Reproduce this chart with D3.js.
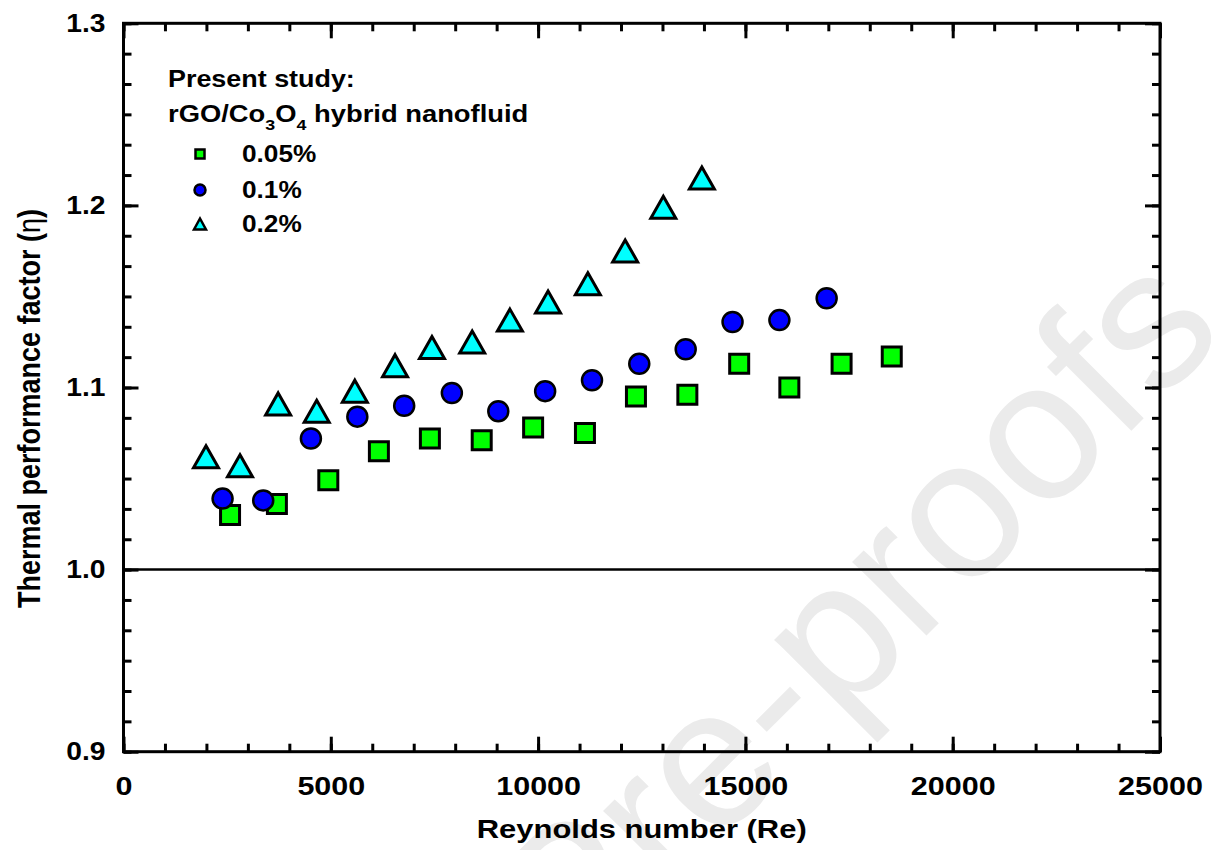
<!DOCTYPE html>
<html>
<head>
<meta charset="utf-8">
<script src="https://cdn.jsdelivr.net/npm/d3@7"></script>
<style>
  html, body { margin: 0; padding: 0; background: #fff; }
  svg { display: block; }
  text { font-family: Arial, "Liberation Sans", sans-serif; font-weight: bold; fill: #000; }
</style>
</head>
<body>
<svg id="chart" width="1214" height="850"></svg>
<script>
// Thermal performance factor vs Reynolds number, rGO/Co3O4 hybrid nanofluid
const re005  = [2570, 3700, 4940, 6160, 7390, 8640, 9880, 11130, 12360, 13600, 14850, 16060, 17320, 18530];
const eta005 = [1.030, 1.036, 1.049, 1.065, 1.072, 1.071, 1.078, 1.075, 1.095, 1.096, 1.113, 1.100, 1.113, 1.117];

const re01   = [2390, 3370, 4520, 5640, 6770, 7920, 9040, 10170, 11300, 12440, 13560, 14690, 15820, 16960];
const eta01  = [1.039, 1.038, 1.072, 1.084, 1.090, 1.097, 1.087, 1.098, 1.104, 1.113, 1.121, 1.136, 1.137, 1.149];

const re02   = [1990, 2810, 3730, 4660, 5580, 6550, 7440, 8410, 9320, 10240, 11200, 12100, 13020, 13950];
const eta02  = [1.062, 1.057, 1.091, 1.087, 1.098, 1.112, 1.122, 1.125, 1.137, 1.147, 1.157, 1.175, 1.199, 1.215];

const seriesNames = ["0.05%", "0.1%", "0.2%"];
const xTicks = [0, 5000, 10000, 15000, 20000, 25000];
const yTicks = [0.9, 1.0, 1.1, 1.2, 1.3];
const referenceLine = 1.0;

const svg = d3.select("#chart");
const pLeft = 123.5, pRight = 1160, pTop = 23.3, pBottom = 751.7;

const x = d3.scaleLinear().domain([0, 25000]).range([pLeft, pRight]);
const y = d3.scaleLinear().domain([0.9, 1.3]).range([pBottom, pTop]);

// faint diagonal watermark behind the plot
svg.append("text")
  .attr("transform", "translate(1228,334) rotate(-45)")
  .attr("text-anchor", "end")
  .style("font-weight", "normal")
  .style("font-size", "198px")
  .style("fill", "#ebebeb")
  .text("Journal Pre-proofs");

// minor tick values: 5 subdivisions on x, 6 on y
const xMinor = d3.range(0, 25001, 1000);
const yMinor = d3.range(0, 25).map(i => 0.9 + i * (0.1 / 6));

const axisStyle = g => {
  g.selectAll(".domain").remove();
  g.selectAll("line").attr("stroke", "#000").attr("stroke-width", 3);
};

// minor ticks on all four sides (inward)
svg.append("g").attr("transform", `translate(0,${pBottom})`)
  .call(d3.axisBottom(x).tickValues(xMinor).tickSize(-8).tickFormat(""))
  .call(axisStyle);
svg.append("g").attr("transform", `translate(0,${pTop})`)
  .call(d3.axisTop(x).tickValues(xMinor).tickSize(-8).tickFormat(""))
  .call(axisStyle);
svg.append("g").attr("transform", `translate(${pLeft},0)`)
  .call(d3.axisLeft(y).tickValues(yMinor).tickSize(-8).tickFormat(""))
  .call(axisStyle);
svg.append("g").attr("transform", `translate(${pRight},0)`)
  .call(d3.axisRight(y).tickValues(yMinor).tickSize(-8).tickFormat(""))
  .call(axisStyle);

// major ticks with labels
const xAxis = svg.append("g").attr("transform", `translate(0,${pBottom})`)
  .call(d3.axisBottom(x).tickValues(xTicks).tickSize(-15).tickPadding(26).tickFormat(d3.format("d")))
  .call(axisStyle);
xAxis.selectAll("text").style("font-size", "25px")
  .attr("transform", "scale(1.22,1)");

svg.append("g").attr("transform", `translate(0,${pTop})`)
  .call(d3.axisTop(x).tickValues(xTicks).tickSize(-15).tickFormat(""))
  .call(axisStyle);

const yAxis = svg.append("g").attr("transform", `translate(${pLeft},0)`)
  .call(d3.axisLeft(y).tickValues(yTicks).tickSize(-15).tickPadding(16).tickFormat(d3.format(".1f")))
  .call(axisStyle);
yAxis.selectAll("text").style("font-size", "25px")
  .attr("transform", "scale(1.13,1)");

svg.append("g").attr("transform", `translate(${pRight},0)`)
  .call(d3.axisRight(y).tickValues(yTicks).tickSize(-15).tickFormat(""))
  .call(axisStyle);

// frame
svg.append("rect")
  .attr("x", pLeft).attr("y", pTop)
  .attr("width", pRight - pLeft).attr("height", pBottom - pTop)
  .attr("fill", "none").attr("stroke", "#000").attr("stroke-width", 3);

// reference line at eta = 1
svg.append("line")
  .attr("x1", pLeft).attr("x2", pRight)
  .attr("y1", y(referenceLine)).attr("y2", y(referenceLine))
  .attr("stroke", "#000").attr("stroke-width", 2.5);

// marker shapes
const squarePath = s => `M${-s/2},${-s/2}H${s/2}V${s/2}H${-s/2}Z`;
const trianglePath = (w, h) => `M0,${-h/2}L${w/2},${h/2}L${-w/2},${h/2}Z`;

const plot = svg.append("g");

const sq = d3.zip(re005, eta005);
const ci = d3.zip(re01, eta01);
const tr = d3.zip(re02, eta02);

plot.selectAll(".sq").data(sq).join("path")
  .attr("d", squarePath(19))
  .attr("transform", d => `translate(${x(d[0])},${y(d[1])})`)
  .attr("fill", "#00ff00").attr("stroke", "#000").attr("stroke-width", 3);

plot.selectAll(".ci").data(ci).join("circle")
  .attr("cx", d => x(d[0])).attr("cy", d => y(d[1])).attr("r", 10)
  .attr("fill", "#0000ff").attr("stroke", "#000").attr("stroke-width", 2.5);

plot.selectAll(".tr").data(tr).join("path")
  .attr("d", trianglePath(25, 22))
  .attr("transform", d => `translate(${x(d[0])},${y(d[1])})`)
  .attr("fill", "#00ffff").attr("stroke", "#000").attr("stroke-width", 3)
  .attr("stroke-linejoin", "miter");

// legend
const legend = svg.append("g").attr("transform", "translate(168,0)");
legend.append("text").attr("transform", "translate(0,87) scale(1.17,1)")
  .style("font-size", "23px").text("Present study:");
const l2 = legend.append("text").attr("transform", "translate(0,122) scale(1.19,1)")
  .style("font-size", "23px");
l2.append("tspan").text("rGO/Co");
l2.append("tspan").attr("dy", 8).style("font-size", "15px").text("3");
l2.append("tspan").attr("dy", -8).text("O");
l2.append("tspan").attr("dy", 8).style("font-size", "15px").text("4");
l2.append("tspan").attr("dy", -8).text(" hybrid nanofluid");

const legendRows = [
  { name: seriesNames[0], cy: 154, fill: "#00ff00", kind: "square" },
  { name: seriesNames[1], cy: 190, fill: "#0000ff", kind: "circle" },
  { name: seriesNames[2], cy: 224, fill: "#00ffff", kind: "triangle" }
];
legendRows.forEach(r => {
  const g = legend.append("g").attr("transform", `translate(32,${r.cy})`);
  if (r.kind === "square") {
    g.append("path").attr("d", squarePath(9)).attr("fill", r.fill).attr("stroke", "#000").attr("stroke-width", 2.5);
  } else if (r.kind === "circle") {
    g.append("circle").attr("r", 5.5).attr("fill", r.fill).attr("stroke", "#000").attr("stroke-width", 2.5);
  } else {
    g.append("path").attr("d", trianglePath(12, 11)).attr("fill", r.fill).attr("stroke", "#000").attr("stroke-width", 2.5);
  }
  legend.append("text").attr("transform", `translate(74,${r.cy + 8}) scale(1.14,1)`)
    .style("font-size", "23px").text(r.name);
});

// axis titles
svg.append("text")
  .attr("transform", `translate(${(pLeft + pRight) / 2},838) scale(1.19,1)`)
  .attr("text-anchor", "middle")
  .style("font-size", "26px")
  .text("Reynolds number (Re)");

const yt = svg.append("text")
  .attr("transform", `translate(40,${(pTop + pBottom) / 2 + 21}) rotate(-90) scale(1,1.15)`)
  .attr("text-anchor", "middle")
  .style("font-size", "27px");
yt.append("tspan").text("Thermal performance factor (");
yt.append("tspan").style("font-weight", "normal").text("η");
yt.append("tspan").text(")");
</script>
</body>
</html>
